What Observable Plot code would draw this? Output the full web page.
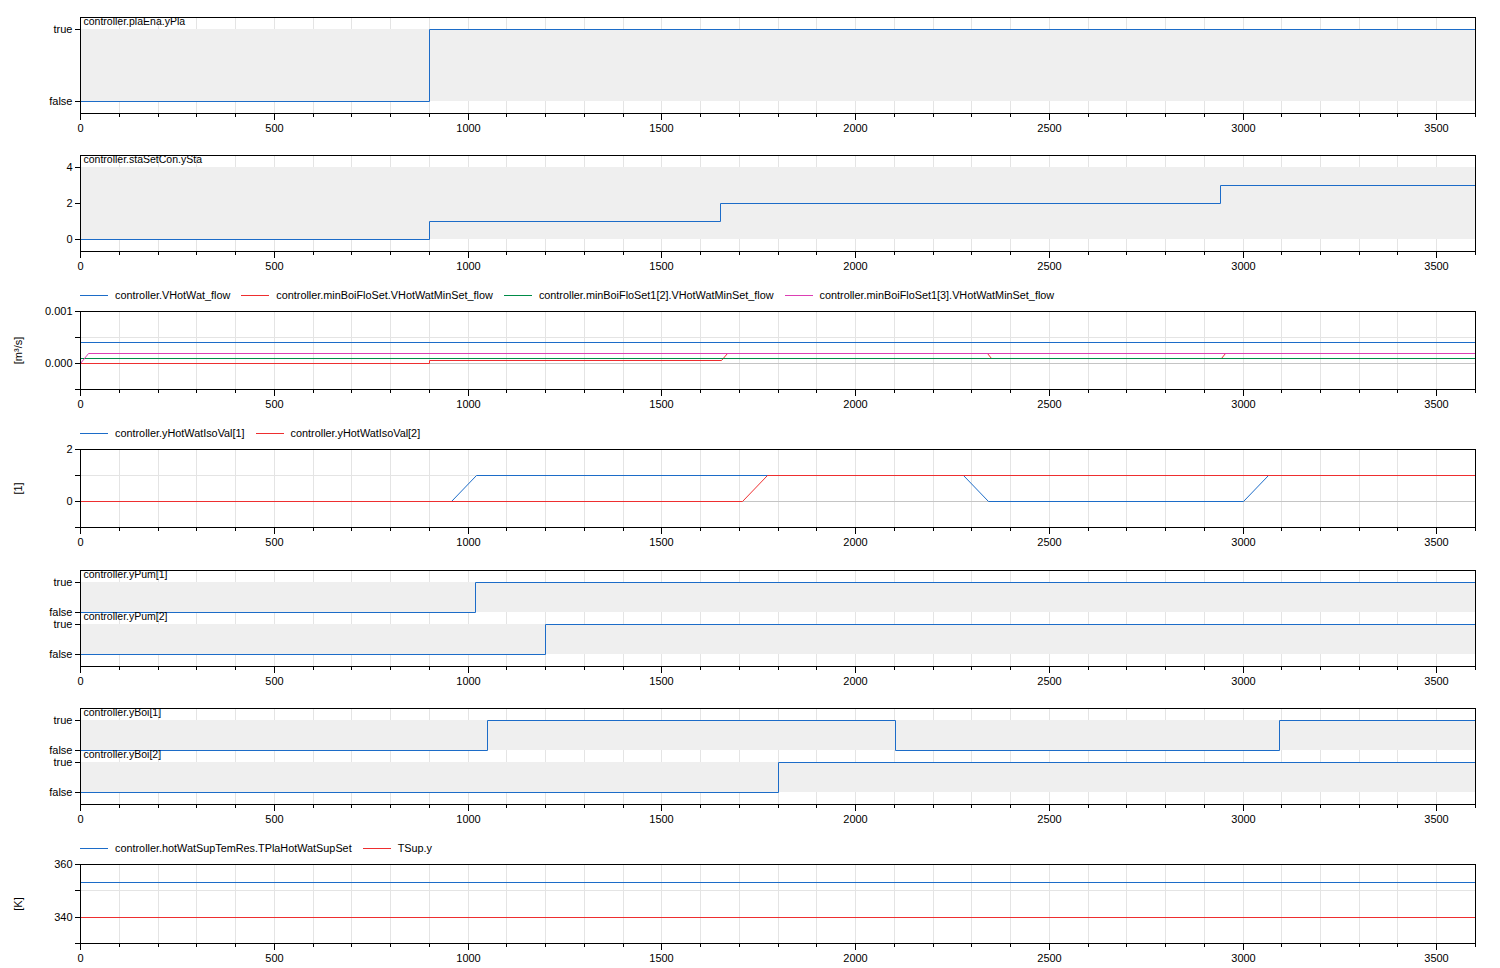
<!DOCTYPE html>
<html>
<head>
<meta charset="utf-8">
<script src="https://cdn.jsdelivr.net/npm/d3@7"></script>
<script src="https://cdn.jsdelivr.net/npm/@observablehq/plot@0.6"></script>
<style>
  body { margin: 0; background: #fff; font-family: "Liberation Sans", Arial, sans-serif; }
  #root { position: relative; width: 1500px; height: 968px; overflow: hidden; }
  .panel { position: absolute; left: 0; }
  .legend { position: absolute; left: 80px; display: flex; gap: 11px; font-size: 10.85px; line-height: 13px; color: #000; white-space: nowrap; }
  .legend .item { display: flex; align-items: center; gap: 7px; }
  .legend .sw { width: 28px; height: 1px; background: currentColor; }
</style>
</head>
<body>
<div id="root"></div>
<script>
// ---------- data ----------
const timeRange = [0, 3600];
const xMajorTicks = [0, 500, 1000, 1500, 2000, 2500, 3000, 3500];

const yPlaT = [0, 900, 3600];
const yPlaV = [0, 1, 1];

const yStaT = [0, 900, 1652, 2943, 3600];
const yStaV = [0, 1, 2, 3, 3];

const vHotWatT = [0, 3600];
const vHotWatV = [0.0004, 0.0004];
const minBoiT = [0, 900, 900, 1655, 1670, 2340, 2352, 2945, 2955, 3600];
const minBoiV = [0, 0, 0.00005, 0.00005, 0.00019, 0.00019, 0.00009, 0.00009, 0.00019, 0.00019];
const minBoi2T = [0, 3600];
const minBoi2V = [0.00009, 0.00009];
const minBoi3T = [0, 20, 3600];
const minBoi3V = [0, 0.00019, 0.00019];

const iso1T = [0, 958, 1022, 2279, 2344, 3002, 3066, 3600];
const iso1V = [0, 0, 1, 1, 0, 0, 1, 1];
const iso2T = [0, 1709, 1773, 3600];
const iso2V = [0, 0, 1, 1];

const pum1T = [0, 1020, 3600];
const pum1V = [0, 1, 1];
const pum2T = [0, 1200, 3600];
const pum2V = [0, 1, 1];

const boi1T = [0, 1051, 2104, 3095, 3600];
const boi1V = [0, 1, 0, 1, 1];
const boi2T = [0, 1802, 3600];
const boi2V = [0, 1, 1];

const tSetT = [0, 3600];
const tSetV = [353.15, 353.15];
const tSupT = [0, 3600];
const tSupV = [340, 340];

const boolLabels = ["false", "true"];

// ---------- styling ----------
const C = { blue: "#1c6cc8", red: "#ee2e2f", green: "#008c48", magenta: "#dc3fb4" };
const W = 1500, ML = 80, MR = 25, MT = 2, MB = 30;

const series = (T, V, off = 0) => T.map((t, i) => ({ t, v: V[i] + off }));

function basePlot({ boxTop, boxH, yDomain, yTicks, yMinor = [], yFmt, grids = [], zero = null, marks, ylabel }) {
  const all = [
    Plot.gridX(d3.range(0, 3601, 100), { stroke: "#e4e4e4", strokeOpacity: 1 }),
    Plot.gridY(grids, { stroke: "#e4e4e4", strokeOpacity: 1 }),
    zero !== null ? Plot.ruleY([zero], { stroke: "#c4c4c4" }) : null,
    ...marks,
    Plot.axisX(d3.range(0, 3601, 100), { tickSize: 4, tickFormat: () => "" }),
    Plot.axisX(xMajorTicks, { tickSize: 7, tickPadding: 4, tickFormat: d3.format("d") }),
    Plot.axisY(yTicks, { tickSize: 5, tickPadding: 3, tickFormat: yFmt }),
    yMinor.length ? Plot.axisY(yMinor, { tickSize: 5, tickFormat: () => "" }) : null,
    ylabel ? Plot.text([ylabel], { frameAnchor: "left", textAnchor: "middle", rotate: -90, dx: -62, fontSize: 11 }) : null,
    Plot.frame({ stroke: "#000" })
  ].filter(Boolean);
  const svg = Plot.plot({
    width: W, height: MT + boxH + MB,
    marginLeft: ML, marginRight: MR, marginTop: MT, marginBottom: MB,
    x: { domain: timeRange, label: null, round: true },
    y: { domain: yDomain, label: null, round: true },
    style: { fontSize: "11px", fontFamily: "'Liberation Sans', Arial, sans-serif", color: "#000", background: "transparent", overflow: "visible" },
    marks: all
  });
  const div = document.createElement("div");
  div.className = "panel";
  div.style.top = (boxTop - MT) + "px";
  div.appendChild(svg);
  document.getElementById("root").appendChild(div);
}

function legend(top, items) {
  const d = document.createElement("div");
  d.className = "legend";
  d.style.top = top + "px";
  for (const [name, col] of items) {
    const it = document.createElement("div");
    it.className = "item";
    const sw = document.createElement("span");
    sw.className = "sw"; sw.style.background = col;
    const tx = document.createElement("span");
    tx.textContent = name;
    it.appendChild(sw); it.appendChild(tx);
    d.appendChild(it);
  }
  document.getElementById("root").appendChild(d);
}

const line = (data, color, curve = "linear") => Plot.line(data, { x: "t", y: "v", stroke: color, strokeWidth: 1, curve });
const band = (off) => Plot.rect([{ x1: timeRange[0], x2: timeRange[1], y1: off, y2: off + 1 }], { x1: "x1", x2: "x2", y1: "y1", y2: "y2", fill: "#efefef" });
const boxLabel = (s) => Plot.text([s], { frameAnchor: "top-left", dx: 3, dy: 0, lineAnchor: "top", fontSize: 10.5 });
const subLabel = (s, y) => Plot.text([{ t: timeRange[0], y, s }], { x: "t", y: "y", text: "s", textAnchor: "start", lineAnchor: "top", dx: 3, dy: 0, fontSize: 10.5 });

// Panel 1: plaEna.yPla
basePlot({
  boxTop: 17, boxH: 96, yDomain: [-1/6, 7/6], yTicks: [0, 1], yFmt: d => boolLabels[d],
  marks: [band(0), line(series(yPlaT, yPlaV), C.blue, "step-after"), boxLabel("controller.plaEna.yPla")]
});

// Panel 2: staSetCon.ySta
basePlot({
  boxTop: 155, boxH: 96, yDomain: [-2/3, 14/3], yTicks: [0, 2, 4], yFmt: d3.format("d"),
  marks: [
    Plot.rect([{ x1: timeRange[0], x2: timeRange[1], y1: 0, y2: 4 }], { x1: "x1", x2: "x2", y1: "y1", y2: "y2", fill: "#efefef" }),
    line(series(yStaT, yStaV), C.blue, "step-after"), boxLabel("controller.staSetCon.ySta")
  ]
});

// Panel 3: flows
legend(289, [
  ["controller.VHotWat_flow", C.blue],
  ["controller.minBoiFloSet.VHotWatMinSet_flow", C.red],
  ["controller.minBoiFloSet1[2].VHotWatMinSet_flow", C.green],
  ["controller.minBoiFloSet1[3].VHotWatMinSet_flow", C.magenta]
]);
basePlot({
  boxTop: 311, boxH: 78, yDomain: [-0.0005, 0.001], yTicks: [0, 0.001], yMinor: [-0.0005, 0.0005], yFmt: d3.format(".3f"),
  grids: [0.0005], zero: 0, ylabel: "[m³/s]",
  marks: [
    line(series(vHotWatT, vHotWatV), C.blue),
    line(series(minBoiT, minBoiV), C.red),
    line(series(minBoi2T, minBoi2V), C.green),
    line(series(minBoi3T, minBoi3V), C.magenta)
  ]
});

// Panel 4: isolation valves
legend(427, [
  ["controller.yHotWatIsoVal[1]", C.blue],
  ["controller.yHotWatIsoVal[2]", C.red]
]);
basePlot({
  boxTop: 449, boxH: 78, yDomain: [-1, 2], yTicks: [0, 2], yMinor: [-1, 1], yFmt: d3.format("d"),
  grids: [1], zero: 0, ylabel: "[1]",
  marks: [line(series(iso1T, iso1V), C.blue), line(series(iso2T, iso2V), C.red)]
});

// Panel 5: pumps
basePlot({
  boxTop: 570, boxH: 96, yDomain: [-0.4, 2.8], yTicks: [0, 1, 1.4, 2.4],
  yFmt: d => ({ 0: "false", 1: "true", 1.4: "false", 2.4: "true" })[d],
  marks: [
    band(1.4), band(0),
    line(series(pum1T, pum1V, 1.4), C.blue, "step-after"),
    line(series(pum2T, pum2V, 0), C.blue, "step-after"),
    boxLabel("controller.yPum[1]"), subLabel("controller.yPum[2]", 1.4)
  ]
});

// Panel 6: boilers
basePlot({
  boxTop: 708, boxH: 96, yDomain: [-0.4, 2.8], yTicks: [0, 1, 1.4, 2.4],
  yFmt: d => ({ 0: "false", 1: "true", 1.4: "false", 2.4: "true" })[d],
  marks: [
    band(1.4), band(0),
    line(series(boi1T, boi1V, 1.4), C.blue, "step-after"),
    line(series(boi2T, boi2V, 0), C.blue, "step-after"),
    boxLabel("controller.yBoi[1]"), subLabel("controller.yBoi[2]", 1.4)
  ]
});

// Panel 7: temperatures
legend(842, [
  ["controller.hotWatSupTemRes.TPlaHotWatSupSet", C.blue],
  ["TSup.y", C.red]
]);
basePlot({
  boxTop: 864, boxH: 79, yDomain: [330, 360], yTicks: [340, 360], yMinor: [330, 350], yFmt: d3.format("d"),
  grids: [340, 350], ylabel: "[K]",
  marks: [line(series(tSetT, tSetV), C.blue), line(series(tSupT, tSupV), C.red)]
});
</script>
</body>
</html>
